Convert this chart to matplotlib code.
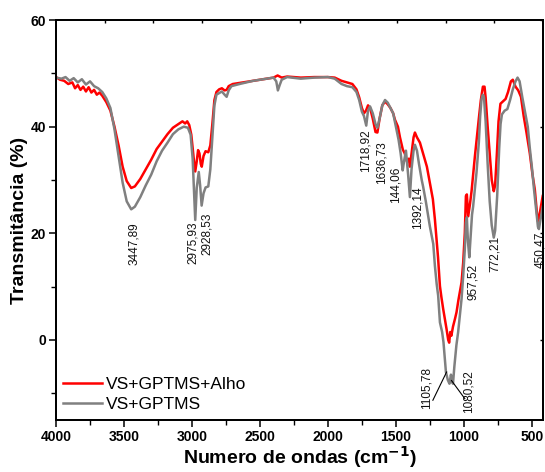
import matplotlib
matplotlib.use("Agg")
import matplotlib.pyplot as plt
from matplotlib.ticker import MultipleLocator

# ---------------- data ----------------
wn_gptms = [4000, 3960, 3930, 3900, 3870, 3840, 3810, 3780, 3750, 3720, 3690, 3660, 3630, 3600,
            3570, 3540, 3510, 3480, 3447, 3420, 3380, 3340, 3300, 3260, 3220, 3180, 3140, 3100,
            3060, 3030, 3010, 2995, 2985, 2976, 2965, 2950, 2940, 2929, 2915, 2900, 2880, 2865,
            2850, 2835, 2820, 2800, 2780, 2760, 2745, 2730, 2710, 2650, 2550, 2450, 2400, 2380,
            2368, 2355, 2340, 2300, 2200, 2100, 2000, 1950, 1900, 1860, 1820, 1790, 1770, 1750,
            1735, 1718, 1705, 1690, 1670, 1650, 1636, 1620, 1600, 1580, 1560, 1540, 1520, 1500,
            1480, 1465, 1450, 1440, 1426, 1410, 1397, 1385, 1370, 1360, 1345, 1330, 1310, 1300,
            1280, 1250, 1225, 1213, 1200, 1189, 1176, 1160, 1150, 1132, 1118, 1106, 1095, 1088,
            1080, 1070, 1055, 1042, 1030, 1017, 1005, 993, 985, 978, 970, 960, 950, 940, 932,
            920, 907, 890, 880, 870, 860, 852, 840, 825, 810, 795, 780, 770, 755, 740, 730, 720,
            700, 680, 660, 640, 620, 605, 590, 570, 550, 530, 515, 500, 485, 467, 455, 448, 440,
            430, 420]
t_gptms = [49.2, 49.0, 49.3, 48.6, 49.1, 48.3, 48.9, 47.9, 48.5, 47.6, 47.2, 46.5, 45.3, 43.5,
           39.5, 34.5, 29.5, 26.0, 24.5, 25.0, 26.8, 29.0, 31.0, 33.5, 35.5, 37.0, 38.6, 39.5,
           40.0, 39.8, 38.5, 34.0, 28.0, 22.5, 28.5, 31.5, 29.0, 25.2, 27.5, 28.6, 28.8, 32.0,
           38.0, 44.0, 46.0, 46.3, 46.6, 46.0, 45.6, 46.8, 47.6, 48.0, 48.6, 49.0, 49.2, 48.5,
           46.8, 47.8, 48.8, 49.3, 49.0, 49.2, 49.3, 49.0, 48.0, 47.6, 47.4, 46.5, 45.0, 42.8,
           42.0, 40.2, 43.0, 43.8, 42.5, 40.5, 39.8, 41.5, 44.0, 45.0, 44.5, 43.5, 42.5, 40.0,
           37.5, 35.0, 31.8, 33.5, 35.5, 31.0, 26.8, 32.0, 35.5, 36.6, 35.5, 33.0, 30.0, 28.8,
           26.0, 21.3, 18.0, 13.9, 10.5, 8.3, 3.3, 1.5, -0.4, -6.0, -7.5, -8.2, -6.5, -7.8,
           -8.2, -5.0, -1.0, 1.5, 4.5, 7.7, 12.0, 17.0, 22.0, 23.0, 18.5, 15.5, 19.5, 23.5, 25.0,
           28.0, 31.4, 37.0, 42.0, 45.2, 46.0, 45.5, 41.0, 33.0, 26.0, 21.5, 19.2, 20.5, 27.0,
           36.0, 40.5, 42.3, 43.0, 43.3, 45.0, 47.0, 48.5, 49.2, 48.5, 45.5, 42.8, 40.0, 36.0,
           32.5, 28.5, 24.2, 21.2, 20.8, 22.0, 23.5, 25.0]

wn_alho = [4000, 3970, 3940, 3910, 3880, 3860, 3840, 3820, 3800, 3780, 3760, 3740, 3720, 3700,
           3680, 3660, 3630, 3600, 3570, 3540, 3510, 3480, 3447, 3420, 3380, 3340, 3300, 3260,
           3220, 3180, 3140, 3100, 3070, 3050, 3035, 3020, 3005, 2995, 2985, 2976, 2965, 2955,
           2945, 2935, 2928, 2915, 2900, 2880, 2865, 2850, 2835, 2820, 2800, 2780, 2760, 2745,
           2730, 2700, 2600, 2500, 2400, 2370, 2340, 2300, 2200, 2100, 2000, 1950, 1900, 1860,
           1820, 1790, 1770, 1750, 1735, 1720, 1705, 1690, 1670, 1650, 1636, 1620, 1600, 1580,
           1560, 1540, 1520, 1507, 1485, 1470, 1449, 1435, 1419, 1405, 1397, 1385, 1370, 1360,
           1345, 1323, 1300, 1272, 1250, 1228, 1213, 1201, 1190, 1176, 1165, 1152, 1140, 1127,
           1115, 1108, 1100, 1092, 1080, 1065, 1054, 1040, 1017, 1005, 993, 985, 978, 968, 955,
           943, 930, 919, 906, 890, 875, 860, 848, 840, 825, 810, 795, 780, 770, 757, 745, 731,
           710, 693, 675, 654, 640, 620, 600, 580, 560, 540, 515, 495, 478, 465, 456, 448, 440,
           430, 420]
t_alho = [49.3, 48.8, 48.6, 48.0, 48.3, 47.2, 47.8, 46.9, 47.5, 46.6, 47.4, 46.4, 46.9, 46.0,
          46.4, 45.8, 44.6, 43.0, 40.0, 36.5, 32.5, 29.8, 28.5, 28.8, 30.2, 32.0, 33.8, 35.8,
          37.2, 38.6, 39.8, 40.5, 41.0, 40.6, 41.0, 40.3, 38.5, 36.0, 33.5, 31.6, 33.5, 35.6,
          35.0, 33.0, 32.5, 34.5, 35.4, 35.2, 36.5, 40.5, 45.0, 46.5, 47.0, 47.2, 46.8, 46.9,
          47.6, 48.0, 48.4, 48.8, 49.2, 49.6, 49.2, 49.4, 49.2, 49.3, 49.3, 49.2, 48.6, 48.3,
          48.0, 47.0, 45.5, 43.5, 42.5, 43.0, 44.0, 43.5, 41.5, 39.0, 38.9, 41.5, 44.0, 44.7,
          44.2, 43.5, 42.5, 41.3, 40.0, 38.0, 35.7, 35.0, 33.5, 34.0, 32.5, 35.0, 38.0, 38.9,
          38.0, 37.0, 35.0, 32.5, 29.5, 26.4, 22.6, 18.9, 15.5, 10.1, 8.0, 5.8, 4.0, 2.0,
          0.0, -0.5, 1.5, 0.8, 2.5, 4.0, 5.2, 7.5, 10.8, 14.5, 20.1, 27.0, 27.3, 23.2, 25.5,
          28.0, 31.5, 34.4, 37.6, 41.5, 45.0, 47.5, 47.5, 45.5, 40.0, 35.0, 30.0, 27.9, 29.0,
          35.0, 41.0, 44.3, 44.8, 45.2, 46.5, 48.5, 48.8, 47.5, 46.8, 45.6, 42.0, 39.0, 35.0,
          31.0, 28.2, 24.5, 22.3, 22.8, 24.0, 25.5, 27.0]

series_labels = ["VS+GPTMS+Alho", "VS+GPTMS"]

peak_labels = ["3447,89", "2975,93", "2928,53", "1718,92", "1636,73", "144,06", "1392,14",
               "957,52", "772,21", "450,47", "1105,78", "1080,52"]
peak_wn = [3428, 2993, 2892, 1720, 1605, 1500, 1343, 936, 772, 441, 1275, 968]
peak_t = [22.1, 22.2, 23.9, 39.4, 37.3, 32.6, 28.8, 14.2, 19.5, 20.4, -5.0, -5.7]

leader_wn = [(1228, 1127), (1091, 993)]
leader_t = [(-11.3, -6.0), (-7.6, -11.0)]

x_ticks = [4000, 3500, 3000, 2500, 2000, 1500, 1000, 500]
y_ticks = [0, 20, 40, 60]

# ---------------- plot ----------------
plt.rcParams['font.family'] = ['Liberation Sans', 'DejaVu Sans']

fig = plt.figure(figsize=(5.45, 4.72), dpi=100)
ax = fig.add_axes([0.1028, 0.1102, 0.8935, 0.8474])

ax.plot(wn_alho, t_alho, color='#ff0000', lw=1.8, label=series_labels[0], zorder=3)
ax.plot(wn_gptms, t_gptms, color='#808080', lw=1.8, label=series_labels[1], zorder=4)

for lab, x, y in zip(peak_labels, peak_wn, peak_t):
    ax.text(x, y, lab, rotation=90, ha='center', va='top', fontsize=8.5, color='#111111',
            zorder=5)
for xs, ys in zip(leader_wn, leader_t):
    ax.plot(xs, ys, color='black', lw=0.8, zorder=5)

ax.set_xlim(4000, 418)
ax.set_ylim(-15, 60)
ax.set_xticks(x_ticks)
ax.set_yticks(y_ticks)
ax.xaxis.set_minor_locator(MultipleLocator(250))
ax.yaxis.set_minor_locator(MultipleLocator(10))
ax.tick_params(axis='both', which='major', direction='out', length=5, width=1.1,
               labelsize=10)
ax.tick_params(axis='both', which='minor', direction='out', length=3.5, width=1.0)
for lab in ax.get_xticklabels() + ax.get_yticklabels():
    lab.set_fontweight('bold')
ax.tick_params(axis='x', pad=2)
ax.tick_params(axis='y', pad=2)

# right side small inward ticks
axr = ax.twinx()
axr.set_ylim(ax.get_ylim())
axr.set_yticks(y_ticks)
axr.set_yticklabels([])
axr.tick_params(axis='y', direction='in', length=2, width=1.0)

# top axis small ticks
axt = ax.twiny()
axt.set_xlim(0, 1)
axt.set_xticks([0.1, 0.2, 0.3, 0.4, 0.5, 0.6, 0.7, 0.8, 0.9])
axt.set_xticklabels([])
axt.tick_params(axis='x', direction='in', length=2, width=1.0)

for a in (ax, axt, axr):
    for s in a.spines.values():
        s.set_linewidth(1.2)

ax.set_xlabel('Numero de ondas (cm$^{\\mathbf{-1}}$)', fontsize=14, fontweight='bold',
              labelpad=0)
ax.set_ylabel('Transmitância (%)', fontsize=14, fontweight='bold', labelpad=2)

ax.legend(loc='lower left', bbox_to_anchor=(-0.008, -0.006), frameon=False, fontsize=12.5,
          handlelength=2.3, handletextpad=0.2, labelspacing=0.3, borderaxespad=0.2)

fig.savefig('out.png', dpi=100)
